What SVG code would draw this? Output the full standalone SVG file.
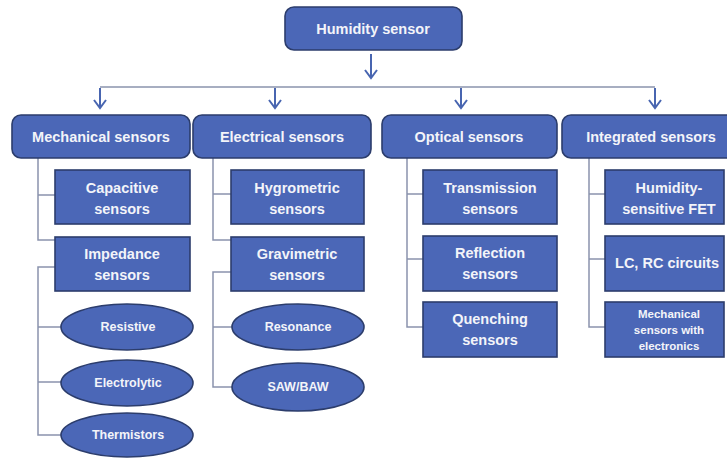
<svg xmlns="http://www.w3.org/2000/svg" width="727" height="459" viewBox="0 0 727 459">
<defs>
<style>
.box{fill:#4b67b7;stroke:#2c3d6c;stroke-width:1.6}
.t{fill:#f3f4f9;font-family:"Liberation Sans",Arial,sans-serif;font-weight:bold;text-anchor:middle}
.t1{font-size:14.5px}
.t2{font-size:14.5px}
.t3{font-size:12.5px}
.t4{font-size:11.5px}
.c{fill:none;stroke:#8a93ad;stroke-width:1.5}
.a{fill:none;stroke:#4865b0;stroke-width:2}
</style>
<marker id="arr" markerUnits="userSpaceOnUse" markerWidth="12" markerHeight="14" refX="10" refY="7" orient="auto" viewBox="0 0 12 14">
<path d="M2,1 L10,7 L2,13" fill="none" stroke="#4865b0" stroke-width="2"/>
</marker>
</defs>
<rect width="727" height="459" fill="#ffffff"/>

<g id="connectors">
<line class="a" x1="371" y1="54" x2="371" y2="78" marker-end="url(#arr)"/>
<path class="c" d="M100 87 H655"/>
<line class="a" x1="100" y1="88" x2="100" y2="108" marker-end="url(#arr)"/>
<line class="a" x1="275" y1="88" x2="275" y2="108" marker-end="url(#arr)"/>
<line class="a" x1="461" y1="88" x2="461" y2="108" marker-end="url(#arr)"/>
<line class="a" x1="655" y1="88" x2="655" y2="108" marker-end="url(#arr)"/>
<path class="c" d="M38 158 V240 H55 M38 195 H55"/>
<path class="c" d="M55 267 H38 V435 H61 M38 327 H61 M38 382 H61"/>
<path class="c" d="M213 158 V240 H231 M213 194 H231"/>
<path class="c" d="M231 272 H213 V387 H232 M213 327 H232"/>
<path class="c" d="M407 158 V327 H423 M407 194 H423 M407 259 H423"/>
<path class="c" d="M589 158 V327 H605 M589 194 H605 M589 259 H605"/>
</g>

<g id="humidity-sensor">
<rect class="box" x="285" y="7" width="177" height="43" rx="9"/>
<text class="t t1" x="373" y="34">Humidity sensor</text>
</g>

<g id="mechanical-sensors">
<rect class="box" x="12" y="115" width="178" height="43" rx="9"/>
<text class="t t1" x="101" y="142">Mechanical sensors</text>
</g>
<g id="electrical-sensors">
<rect class="box" x="193" y="115" width="178" height="43" rx="9"/>
<text class="t t1" x="282" y="142">Electrical sensors</text>
</g>
<g id="optical-sensors">
<rect class="box" x="382" y="115" width="175" height="43" rx="9"/>
<text class="t t1" x="469" y="142">Optical sensors</text>
</g>
<g id="integrated-sensors">
<rect class="box" x="562" y="115" width="180" height="43" rx="9"/>
<text class="t t1" x="651" y="142">Integrated sensors</text>
</g>

<g id="capacitive">
<rect class="box" x="55" y="170" width="135" height="54"/>
<text class="t t2" x="122" y="193">Capacitive</text>
<text class="t t2" x="122" y="214">sensors</text>
</g>
<g id="impedance">
<rect class="box" x="55" y="237" width="135" height="54"/>
<text class="t t2" x="122" y="259">Impedance</text>
<text class="t t2" x="122" y="280">sensors</text>
</g>
<g id="resistive">
<ellipse class="box" cx="127" cy="327" rx="66" ry="23"/>
<text class="t t3" x="128" y="331">Resistive</text>
</g>
<g id="electrolytic">
<ellipse class="box" cx="127" cy="383" rx="66" ry="23"/>
<text class="t t3" x="128" y="387">Electrolytic</text>
</g>
<g id="thermistors">
<ellipse class="box" cx="127" cy="435" rx="66" ry="22"/>
<text class="t t3" x="128" y="439">Thermistors</text>
</g>

<g id="hygrometric">
<rect class="box" x="231" y="170" width="133" height="54"/>
<text class="t t2" x="297" y="193">Hygrometric</text>
<text class="t t2" x="297" y="214">sensors</text>
</g>
<g id="gravimetric">
<rect class="box" x="231" y="237" width="133" height="54"/>
<text class="t t2" x="297" y="259">Gravimetric</text>
<text class="t t2" x="297" y="280">sensors</text>
</g>
<g id="resonance">
<ellipse class="box" cx="298" cy="327" rx="66" ry="23"/>
<text class="t t3" x="298" y="331">Resonance</text>
</g>
<g id="saw-baw">
<ellipse class="box" cx="298" cy="387" rx="66" ry="24"/>
<text class="t t3" x="298" y="391">SAW/BAW</text>
</g>

<g id="transmission">
<rect class="box" x="423" y="170" width="134" height="54"/>
<text class="t t2" x="490" y="193">Transmission</text>
<text class="t t2" x="490" y="214">sensors</text>
</g>
<g id="reflection">
<rect class="box" x="423" y="236" width="134" height="55"/>
<text class="t t2" x="490" y="258">Reflection</text>
<text class="t t2" x="490" y="279">sensors</text>
</g>
<g id="quenching">
<rect class="box" x="423" y="302" width="134" height="55"/>
<text class="t t2" x="490" y="324">Quenching</text>
<text class="t t2" x="490" y="345">sensors</text>
</g>

<g id="humidity-sensitive-fet">
<rect class="box" x="605" y="170" width="119" height="54"/>
<text class="t t2" x="669" y="193">Humidity-</text>
<text class="t t2" x="669" y="214">sensitive FET</text>
</g>
<g id="lc-rc-circuits">
<rect class="box" x="605" y="236" width="119" height="55"/>
<text class="t t2" x="667" y="268">LC, RC circuits</text>
</g>
<g id="mechanical-with-electronics">
<rect class="box" x="605" y="302" width="119" height="55"/>
<text class="t t4" x="669" y="318">Mechanical</text>
<text class="t t4" x="669" y="334">sensors with</text>
<text class="t t4" x="669" y="350">electronics</text>
</g>
</svg>
